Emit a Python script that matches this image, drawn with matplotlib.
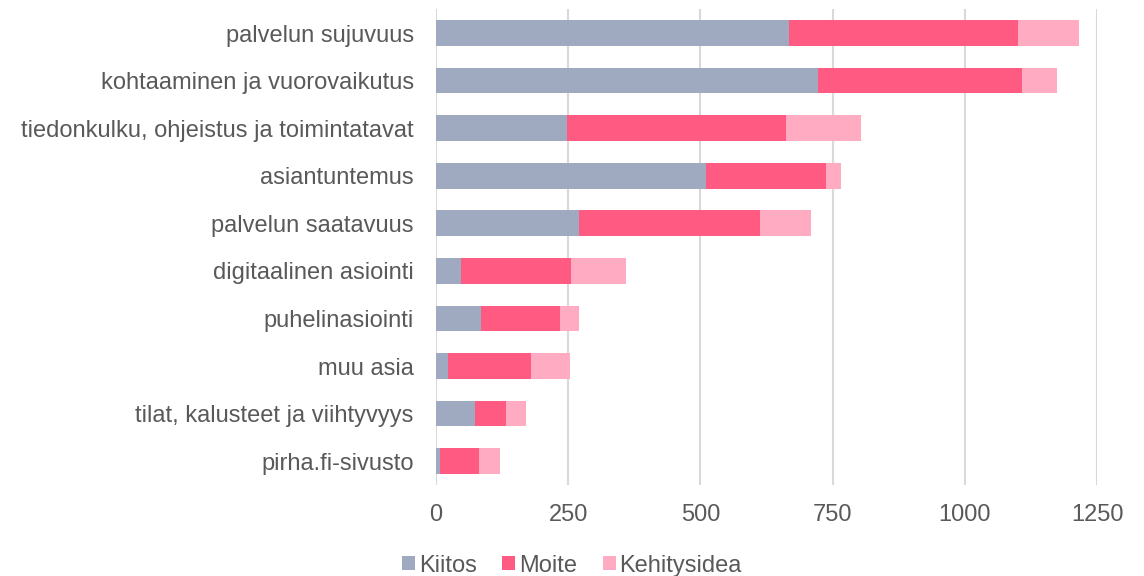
import matplotlib.pyplot as plt
import numpy as np

plt.rcParams['font.family'] = ['Liberation Sans', 'DejaVu Sans']

# Data
kategoriat = ['palvelun sujuvuus', 'kohtaaminen ja vuorovaikutus',
              'tiedonkulku, ohjeistus ja toimintatavat', 'asiantuntemus',
              'palvelun saatavuus', 'digitaalinen asiointi', 'puhelinasiointi',
              'muu asia', 'tilat, kalusteet ja viihtyvyys', 'pirha.fi-sivusto']
kiitos = [668, 722, 248, 511, 270, 47, 85, 23, 74, 8]
moite = [432, 386, 413, 226, 343, 209, 149, 156, 58, 73]
kehitysidea = [115, 66, 143, 28, 96, 103, 36, 74, 38, 40]
xtikit = [0, 250, 500, 750, 1000, 1250]

teksti = '#595959'

fig = plt.figure(figsize=(11.44, 5.76), dpi=100)
ax = fig.add_axes([0.381, 0.158, 0.578, 0.826])

y = np.arange(len(kategoriat))
k = np.array(kiitos)
m = np.array(moite)
h = np.array(kehitysidea)

ax.barh(y, k, height=0.54, color='#9FAAC1', label='Kiitos')
ax.barh(y, m, left=k, height=0.54, color='#FF5A82', label='Moite')
ax.barh(y, h, left=k + m, height=0.54, color='#FFABC1', label='Kehitysidea')

ax.set_ylim(len(kategoriat) - 0.5, -0.5)
ax.set_xlim(0, 1250)
ax.set_xticks(xtikit)
ax.set_xticklabels([str(t) for t in xtikit])
ax.set_yticks(y)
ax.set_yticklabels(kategoriat)

ax.grid(axis='x', color='#D9D9D9', linewidth=1.5)
ax.set_axisbelow(True)
for s in ax.spines.values():
    s.set_visible(False)
ax.tick_params(axis='both', length=0, labelsize=17, colors=teksti)
ax.tick_params(axis='y', pad=16)
ax.tick_params(axis='x', pad=14)

fig.legend(loc='lower center', bbox_to_anchor=(0.5, -0.038), ncol=3, frameon=False,
           fontsize=17, labelcolor=teksti, handlelength=0.55, handleheight=0.55,
           handletextpad=0.15, columnspacing=1.1)

fig.savefig('out.png', dpi=100)
